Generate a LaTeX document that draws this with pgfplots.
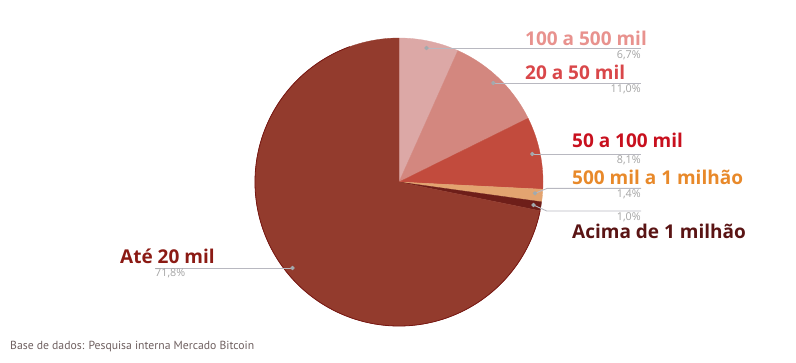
\documentclass[border=0pt]{standalone}
\usepackage{pgfplots}
\pgfplotsset{compat=1.18}
\usepackage{fontspec}
\setmainfont{Open Sans}
\newfontfamily\footfont{PT Sans}
\definecolor{cA}{HTML}{DCA8A6}
\definecolor{cB}{HTML}{D3877F}
\definecolor{cC}{HTML}{C24B3D}
\definecolor{cD}{HTML}{E3A470}
\definecolor{cE}{HTML}{6E1E19}
\definecolor{cF}{HTML}{933B2D}
\definecolor{lA}{HTML}{E8928E}
\definecolor{lB}{HTML}{D9474A}
\definecolor{lC}{HTML}{C8101E}
\definecolor{lD}{HTML}{E8892A}
\definecolor{lE}{HTML}{5A1414}
\definecolor{lF}{HTML}{8B1A14}
\definecolor{leader}{HTML}{B8B8C0}
\definecolor{dotc}{HTML}{A2AAAE}
\definecolor{pct}{HTML}{A4A4A4}
\definecolor{foot}{HTML}{6E5F5F}
% data (percent)
\def\pA{6.7}\def\pB{11.0}\def\pC{8.1}\def\pD{1.4}\def\pE{1.0}\def\pF{71.8}
\pgfmathsetmacro\aA{90}
\pgfmathsetmacro\aB{\aA-3.6*\pA}
\pgfmathsetmacro\aC{\aB-3.6*\pB}
\pgfmathsetmacro\aD{\aC-3.6*\pC}
\pgfmathsetmacro\aE{\aD-3.6*\pD}
\pgfmathsetmacro\aF{\aE-3.6*\pE}
\pgfmathsetmacro\aG{\aF-3.6*\pF}
\def\cx{399}\def\cy{182}\def\rr{144}
\begin{document}
\begin{tikzpicture}
\begin{axis}[
  width=796pt, height=362pt, scale only axis, hide axis,
  xmin=0, xmax=796, ymin=0, ymax=362, y dir=reverse, clip=false,
  every axis plot/.append style={line join=round},
]
\addplot[draw=none] coordinates {(0,0) (796,362)};
% slices
\addplot[fill=cA, draw=cA, line width=0.3pt, domain=\aB:\aA, samples=40, variable=\t]
  ({\cx+\rr*cos(\t)},{\cy-\rr*sin(\t)}) -- (axis cs:\cx,\cy) -- cycle;
\addplot[fill=cB, draw=cB, line width=0.3pt, domain=\aC:\aB, samples=60, variable=\t]
  ({\cx+\rr*cos(\t)},{\cy-\rr*sin(\t)}) -- (axis cs:\cx,\cy) -- cycle;
\addplot[fill=cC, draw=cC, line width=0.3pt, domain=\aD:\aC, samples=50, variable=\t]
  ({\cx+\rr*cos(\t)},{\cy-\rr*sin(\t)}) -- (axis cs:\cx,\cy) -- cycle;
\addplot[fill=cD, draw=cD, line width=0.3pt, domain=\aE:\aD, samples=10, variable=\t]
  ({\cx+\rr*cos(\t)},{\cy-\rr*sin(\t)}) -- (axis cs:\cx,\cy) -- cycle;
\addplot[fill=cE, draw=cE, line width=0.3pt, domain=\aF:\aE, samples=10, variable=\t]
  ({\cx+\rr*cos(\t)},{\cy-\rr*sin(\t)}) -- (axis cs:\cx,\cy) -- cycle;
\addplot[fill=cF, draw=cF, line width=0.3pt, domain=\aG:\aF, samples=240, variable=\t]
  ({\cx+\rr*cos(\t)},{\cy-\rr*sin(\t)}) -- (axis cs:\cx,\cy) -- cycle;
\addplot[draw=lF!85!black, line width=0.8pt, domain=\aG+20:\aF, samples=200, variable=\t]
  ({\cx+\rr*cos(\t)},{\cy-\rr*sin(\t)});
% leader lines with dots
\pgfplotsset{leaderstyle/.style={leader, line width=0.9pt, mark=*, mark indices={1}, mark size=1.7pt, mark options={fill=dotc, draw=dotc}}}
\addplot[leaderstyle] coordinates {(426.5,48) (641,48)};
\addplot[leaderstyle] coordinates {(493.3,83) (641,83)};
\addplot[leaderstyle] coordinates {(532.3,154) (641,154)};
\addplot[leaderstyle] coordinates {(535,193.3) (547.3,188.3) (641,188.3)};
\addplot[leaderstyle] coordinates {(533.5,205) (546.7,211) (641,211)};
\addplot[leaderstyle] coordinates {(292.5,268) (155,268)};
% category labels
\def\lab#1#2#3#4{\node[anchor=base west, inner sep=0pt, text=#3, font=\fontsize{19}{22}\selectfont\bfseries] at (axis cs:#1,#2) {#4};}
\lab{525}{45}{lA}{100 a 500 mil}
\lab{525}{79}{lB}{20 a 50 mil}
\lab{572}{147}{lC}{50 a 100 mil}
\lab{572}{184.5}{lD}{500 mil a 1 milhão}
\lab{572}{238}{lE}{Acima de 1 milhão}
\lab{120}{263}{lF}{Até 20 mil}
% percentages
\def\pl#1#2#3{\node[anchor=base east, inner sep=0pt, text=pct, font=\fontsize{10.8}{12}\selectfont] at (axis cs:#1,#2) {#3};}
\pl{641}{58.3}{6,7\%}
\pl{641}{92.7}{11,0\%}
\pl{641}{163.3}{8,1\%}
\pl{641}{197.3}{1,4\%}
\pl{641}{220.7}{1,0\%}
\node[anchor=base west, inner sep=0pt, text=pct, font=\fontsize{10.8}{12}\selectfont] at (axis cs:155,276.7) {71,8\%};
% footnote
\node[anchor=base west, inner sep=0pt, text=foot, font=\footfont\fontsize{11.7}{13}\selectfont] at (axis cs:10,349) {Base de dados: Pesquisa interna Mercado Bitcoin};
\end{axis}
\end{tikzpicture}
\end{document}
